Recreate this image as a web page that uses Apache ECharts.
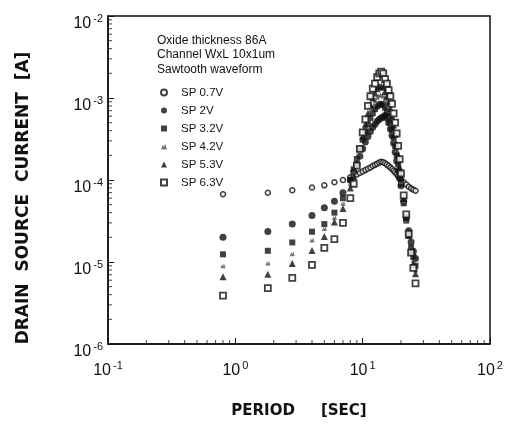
<!DOCTYPE html>
<html><head><meta charset="utf-8">
<script src="https://cdn.jsdelivr.net/npm/echarts@6/dist/echarts.min.js"></script>
<style>html,body{margin:0;padding:0;background:#fff}#c{width:514px;height:424px}</style>
</head><body><div id="c"></div>
<script>
// Period [s]
const periods = [0.8,1.8,2.8,4,5,6,7,8,8.5,9,9.5,10,10.5,11,11.5,12,12.5,13,13.5,14,14.5,15,15.5,16,16.5,17,17.5,18,18.5,19,19.5,20,21,22,23,24,25,26];
const sp07 = [6.7e-5,7.0e-5,7.5e-5,8.1e-5,8.6e-5,9.4e-5,1.0e-4,1.08e-4,1.12e-4,1.17e-4,1.22e-4,1.27e-4,1.32e-4,1.37e-4,1.42e-4,1.48e-4,1.53e-4,1.58e-4,1.63e-4,1.67e-4,1.65e-4,1.6e-4,1.54e-4,1.48e-4,1.42e-4,1.36e-4,1.3e-4,1.24e-4,1.18e-4,1.12e-4,1.07e-4,1.02e-4,9.4e-5,8.8e-5,8.3e-5,7.9e-5,7.6e-5,7.4e-5];
const sp2 = [2.0e-5,2.36e-5,2.9e-5,3.68e-5,4.6e-5,5.5e-5,7.0e-5,1.0e-4,1.25e-4,1.55e-4,1.95e-4,2.4e-4,2.9e-4,3.4e-4,3.9e-4,4.4e-4,4.8e-4,5.2e-4,5.5e-4,5.7e-4,5.9e-4,6.1e-4,5.7e-4,5.0e-4,4.2e-4,3.5e-4,2.8e-4,2.2e-4,1.7e-4,1.3e-4,1.05e-4,8.5e-5,5.5e-5,3.5e-5,2.4e-5,1.75e-5,1.35e-5,1.1e-5];
const sp32 = [1.24e-5,1.37e-5,1.73e-5,2.34e-5,2.9e-5,4.0e-5,6.0e-5,1.0e-4,1.35e-4,1.8e-4,2.4e-4,3.1e-4,3.9e-4,4.8e-4,5.7e-4,6.5e-4,7.3e-4,7.9e-4,8.3e-4,8.5e-4,8.2e-4,7.6e-4,6.8e-4,6.0e-4,5.0e-4,4.1e-4,3.3e-4,2.6e-4,2.0e-4,1.55e-4,1.2e-4,9.0e-5,5.2e-5,3.2e-5,2.1e-5,1.5e-5,1.15e-5,9.0e-6];
const sp42 = [9.0e-6,9.7e-6,1.26e-5,1.86e-5,2.56e-5,3.5e-5,5.2e-5,9.0e-5,1.25e-4,1.75e-4,2.5e-4,3.4e-4,4.5e-4,5.7e-4,7.0e-4,8.2e-4,9.3e-4,1.02e-3,1.08e-3,1.1e-3,1.05e-3,9.5e-4,8.4e-4,7.2e-4,6.0e-4,4.9e-4,3.9e-4,3.0e-4,2.3e-4,1.75e-4,1.3e-4,9.5e-5,5.5e-5,3.3e-5,2.1e-5,1.45e-5,1.05e-5,8.0e-6];
const sp53 = [6.6e-6,7.1e-6,9.6e-6,1.38e-5,2.04e-5,3.07e-5,4.5e-5,8.0e-5,1.1e-4,1.6e-4,2.4e-4,3.4e-4,4.8e-4,6.5e-4,8.3e-4,1.0e-3,1.15e-3,1.3e-3,1.38e-3,1.4e-3,1.35e-3,1.2e-3,1.05e-3,9.0e-4,7.5e-4,6.0e-4,4.7e-4,3.6e-4,2.7e-4,2.0e-4,1.45e-4,1.05e-4,6.0e-5,3.5e-5,2.1e-5,1.35e-5,9.5e-6,7.2e-6];
const sp63 = [3.9e-6,4.8e-6,6.4e-6,9.2e-6,1.49e-5,1.9e-5,3.0e-5,6.0e-5,9.0e-5,1.5e-4,2.4e-4,3.8e-4,5.5e-4,8.0e-4,1.05e-3,1.3e-3,1.5e-3,1.8e-3,2.0e-3,2.1e-3,2.0e-3,1.7e-3,1.5e-3,1.25e-3,1.05e-3,8.5e-4,6.5e-4,5.0e-4,3.7e-4,2.6e-4,1.8e-4,1.2e-4,6.5e-5,3.8e-5,2.2e-5,1.3e-5,8.5e-6,5.5e-6];
const seriesNames = ['SP 0.7V','SP 2V','SP 3.2V','SP 4.2V','SP 5.3V','SP 6.3V'];
const seriesValues = [sp07, sp2, sp32, sp42, sp53, sp63];
const noteLines = ['Oxide thickness 86A','Channel WxL 10x1um','Sawtooth waveform'];
const xTitle = 'PERIOD     [SEC]';
const yTitle = 'DRAIN  SOURCE  CURRENT  [A]';
const minorMult = [2,3,4,5,6,7,8,9];

const FONT = 'Liberation Sans, Arial, sans-serif';
const styles = [
  {symbol:'circle', symbolSize:5, itemStyle:{color:'#fff', borderColor:'#111', borderWidth:1.5}},
  {symbol:'circle', symbolSize:7, itemStyle:{color:'#111'}},
  {symbol:'rect', symbolSize:6, itemStyle:{color:'#111'}},
  {symbol:'path://M0,10 L3,2 L5,6 L7,0 L10,10 Z', symbolSize:5, itemStyle:{color:'#555'}},
  {symbol:'triangle', symbolSize:7, itemStyle:{color:'#111'}},
  {symbol:'rect', symbolSize:6, itemStyle:{color:'#fff', borderColor:'#111', borderWidth:1.8}}
];

const series = seriesNames.map((n,i)=>Object.assign({
  name:n, type:'scatter', data: periods.map((p,j)=>[p, seriesValues[i][j]]), z: 3+i
}, styles[i]));

// minor ticks (true log spacing)
const yMinor = [], xMinor = [];
for (let e=-6;e<-2;e++) minorMult.forEach(m=>yMinor.push([0.1, m*Math.pow(10,e)]));
for (let e=-1;e<2;e++) minorMult.forEach(m=>xMinor.push([m*Math.pow(10,e), 1e-6]));
series.push({type:'scatter', silent:true, data:yMinor, symbol:'rect', symbolSize:[4,1], symbolOffset:[2,0], itemStyle:{color:'#111'}, clip:false, legendHoverLink:false, z:10});
series.push({type:'scatter', silent:true, data:xMinor, symbol:'rect', symbolSize:[1,4], symbolOffset:[0,-2], itemStyle:{color:'#111'}, clip:false, legendHoverLink:false, z:10});

const labelFmt = v => '{b|10}{e|' + Math.round(Math.log10(v)) + '}';
const labelRich = {
  b:{fontSize:16, fontFamily:FONT, color:'#111'},
  e:{fontSize:11, fontFamily:FONT, color:'#111', padding:[0,0,10,2]}
};

const chart = echarts.init(document.getElementById('c'), null, {renderer:'canvas'});
chart.setOption({
  animation:false,
  backgroundColor:'#fff',
  grid:{left:108, right:24, top:16, bottom:70, show:true, borderColor:'#111', borderWidth:1.5, backgroundColor:'transparent'},
  xAxis:{type:'log', min:0.1, max:100, logBase:10,
    axisLine:{lineStyle:{color:'#111', width:1.5}},
    axisTick:{inside:true, length:6, lineStyle:{color:'#111'}},
    splitLine:{show:false},
    axisLabel:{formatter:labelFmt, rich:labelRich, margin:16},
    name:xTitle, nameLocation:'middle', nameGap:60,
    nameTextStyle:{fontFamily:'DejaVu Sans, sans-serif', fontWeight:'bold', fontSize:15, color:'#111'}
  },
  yAxis:{type:'log', min:1e-6, max:1e-2, logBase:10,
    axisLine:{lineStyle:{color:'#111', width:1.5}},
    axisTick:{inside:true, length:6, lineStyle:{color:'#111'}},
    splitLine:{show:false},
    axisLabel:{formatter:labelFmt, rich:labelRich, margin:5, padding:[16,0,0,0]},
    name:yTitle, nameLocation:'middle', nameGap:76, nameRotate:90,
    nameTextStyle:{fontFamily:'DejaVu Sans, sans-serif', fontWeight:'bold', fontSize:17, color:'#111', padding:[0,36,0,0]}
  },
  legend:{orient:'vertical', left:160, top:86, padding:0, itemWidth:6, itemHeight:6, itemGap:5,
    data:seriesNames,
    textStyle:{fontFamily:FONT, fontSize:11.5, color:'#111', lineHeight:13, padding:[0,0,0,9]}},
  graphic:[{type:'text', left:157, top:33,
    style:{text:noteLines.join('\n'), font:'12px '+FONT, fill:'#111', lineHeight:14.5}}],
  series:series
});
</script></body></html>
